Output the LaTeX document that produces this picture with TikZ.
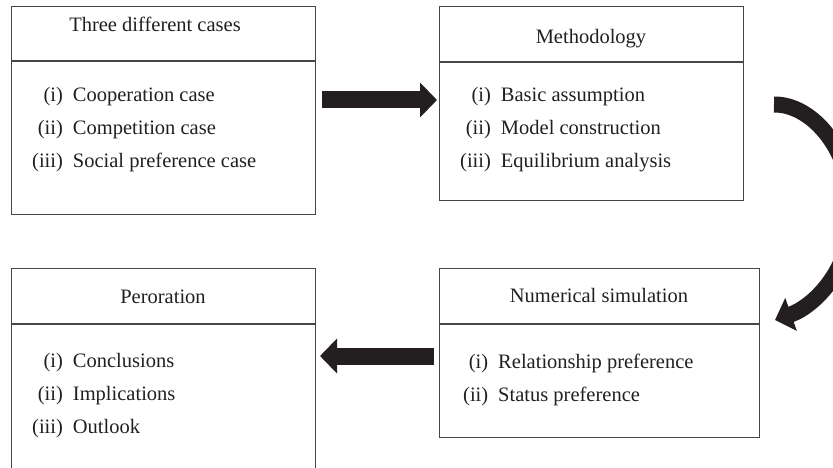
\documentclass[tikz,border=0pt]{standalone}
\usepackage{fontspec}
\setmainfont{Liberation Serif}
\usetikzlibrary{arrows.meta}
\definecolor{ink}{RGB}{35,31,32}
\definecolor{frame}{RGB}{70,70,70}
\tikzset{
  >={Triangle[length=17pt,width=34pt]},
}
\tikzstyle{box}=[draw=frame, line width=1.2pt, anchor=north west, inner sep=0pt]
\tikzstyle{rule}=[draw=frame, line width=1.2pt]
\tikzstyle{every node}=[font=\fontsize{20.5}{33}\selectfont, text=ink]
\tikzstyle{head}=[anchor=base]
\tikzstyle{items}=[anchor=base west, inner sep=0pt]
\tikzstyle{fat}=[ink, line width=17pt, ->]
\newcommand{\itemlist}[1]{\begin{tabular}[t]{@{}r@{\hspace{10pt}}l@{}}#1\end{tabular}}
\begin{document}
\begin{tikzpicture}[x=1pt, y=-1pt]
    \useasboundingbox (0,0) rectangle (833,468);
    % the four boxes
    \node[box, minimum width=304pt, minimum height=208pt] (cases) at (11,6) {};
    \node[box, minimum width=304pt, minimum height=194pt] (method) at (439,6) {};
    \node[box, minimum width=304pt, minimum height=212pt] (perorate) at (11,268) {};
    \node[box, minimum width=320pt, minimum height=169pt] (numsim) at (439,268) {};
    \draw[rule] ([yshift=-55pt]cases.north west) -- ([yshift=-55pt]cases.north east);
    \draw[rule] ([yshift=-56pt]method.north west) -- ([yshift=-56pt]method.north east);
    \draw[rule] ([yshift=-56pt]perorate.north west) -- ([yshift=-56pt]perorate.north east);
    \draw[rule] ([yshift=-56pt]numsim.north west) -- ([yshift=-56pt]numsim.north east);
    % headers
    \node[head] (casesHead) at (155,32) {Three different cases};
    \node[head] (methodHead) at (591,44) {Methodology};
    \node[head] (perorateHead) at (163,303) {Peroration};
    \node[head] (numsimHead) at (599,302) {Numerical simulation};
    % lists
    \node[items] (casesList) at (32,102) {\itemlist{(i)&Cooperation case\\(ii)&Competition case\\(iii)&Social preference case}};
    \node[items] (methodList) at (460,102) {\itemlist{(i)&Basic assumption\\(ii)&Model construction\\(iii)&Equilibrium analysis}};
    \node[items] (perorateList) at (32,367) {\itemlist{(i)&Conclusions\\(ii)&Implications\\(iii)&Outlook}};
    \node[items] (numsimList) at (463,368) {\itemlist{(i)&Relationship preference\\(ii)&Status preference}};
    % arrows
    \coordinate (r1) at (322,100);
    \coordinate (r2) at (437,100);
    \coordinate (l1) at (434,356);
    \coordinate (l2) at (320,356);
    \coordinate (c1) at (774,104.5);
    \coordinate (c2) at (775,320);
    \draw[fat] (r1) -- (r2);
    \draw[fat] (l1) -- (l2);
    \draw[fat, line width=16pt] (c1) .. controls (812,104) and (852,150) .. (852,212)
      .. controls (852,268) and (815,306) .. (c2);
\end{tikzpicture}
\end{document}
